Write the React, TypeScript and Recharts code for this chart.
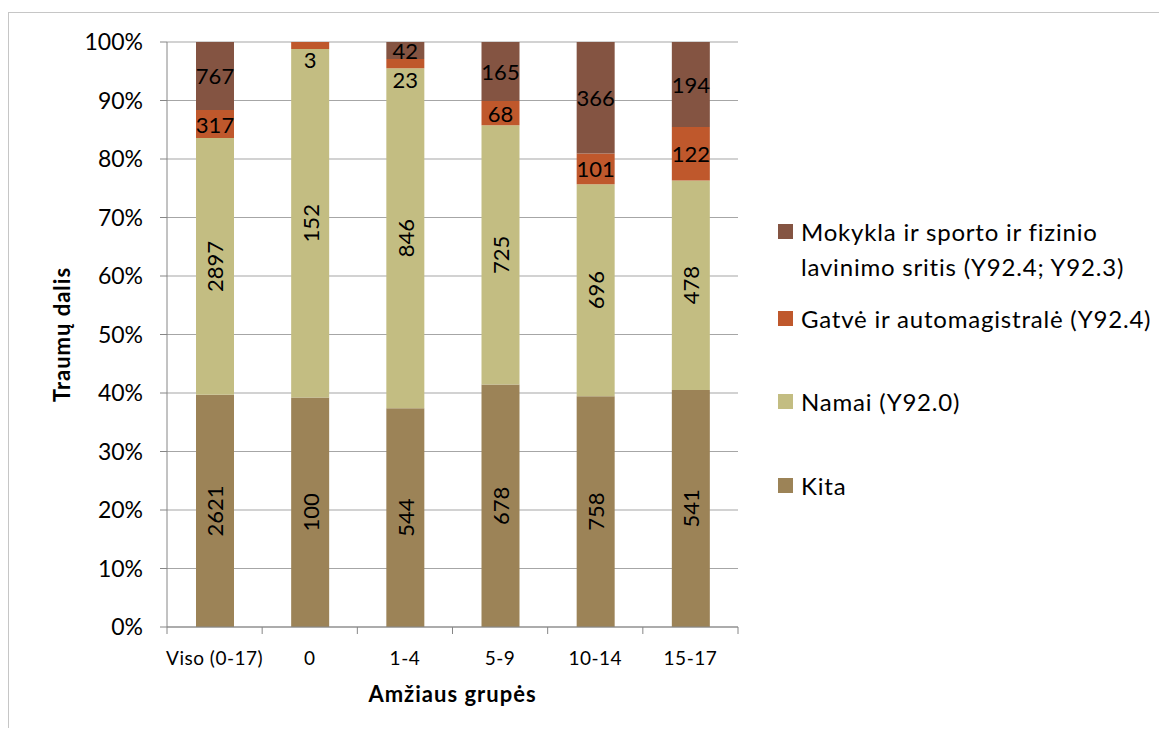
import React from 'react';
import { BarChart, Bar, XAxis, YAxis, CartesianGrid, LabelList } from 'recharts';

const groups = ['Viso (0-17)', '0', '1-4', '5-9', '10-14', '15-17'];
const kita = [2621, 100, 544, 678, 758, 541];
const namai = [2897, 152, 846, 725, 696, 478];
const gatve = [317, 3, 23, 68, 101, 122];
const mokykla = [767, 0, 42, 165, 366, 194];
const yTicks = [0, 0.1, 0.2, 0.3, 0.4, 0.5, 0.6, 0.7, 0.8, 0.9, 1];

const data = groups.map((g, i) => ({
  group: g,
  kita: kita[i],
  namai: namai[i],
  gatve: gatve[i],
  mokykla: mokykla[i],
}));

const COLORS = {
  mokykla: '#845442',
  gatve: '#BF582C',
  namai: '#C3BD82',
  kita: '#9C8357',
};

const legendItems = [
  { key: 'mokykla', lines: ['Mokykla ir sporto ir fizinio', 'lavinimo sritis (Y92.4; Y92.3)'] },
  { key: 'gatve', lines: ['Gatvė ir automagistralė (Y92.4)'] },
  { key: 'namai', lines: ['Namai (Y92.0)'] },
  { key: 'kita', lines: ['Kita'] },
];

const FONT = 'Lato, "Open Sans", sans-serif';
const W = 1158;
const H = 718;
const PLOT_L = 158;
const PLOT_R = 729;
const HALF_BAND = (PLOT_R - PLOT_L) / groups.length / 2;

function makeLabel(rotate: boolean, pushBelow: boolean) {
  return (props: any) => {
    const x = Number(props.x), y = Number(props.y);
    const w = Number(props.width), h = Number(props.height);
    if (!props.value) return null;
    const cx = x + w / 2;
    let cy = y + h / 2;
    if (pushBelow && h < 20) cy = y + h + 11;
    return (
      <text
        x={cx}
        y={cy}
        textAnchor="middle"
        dominantBaseline="central"
        fontSize={22}
        fontFamily={FONT}
        fill="#000"
        transform={rotate ? `rotate(-90 ${cx} ${cy})` : undefined}
      >
        {props.value}
      </text>
    );
  };
}

function XTick(props: any) {
  const { x, y, payload, index } = props;
  const last = index === groups.length - 1;
  return (
    <g>
      <line x1={x - HALF_BAND} y1={y - 8} x2={x - HALF_BAND} y2={y - 1} stroke="#868686" />
      {last && <line x1={x + HALF_BAND} y1={y - 8} x2={x + HALF_BAND} y2={y - 1} stroke="#868686" />}
      <text x={x} y={y + 22} textAnchor="middle" dominantBaseline="central" fontSize={19} letterSpacing={0.5} fontFamily={FONT} fill="#000">
        {payload.value}
      </text>
    </g>
  );
}

function Legend() {
  const tops = [201, 288, 371, 455];
  return (
    <>
      {legendItems.map((it, i) => (
        <div key={it.key} style={{ position: 'absolute', left: 769, top: tops[i], display: 'flex', fontFamily: FONT, fontSize: 24, letterSpacing: 0.8, lineHeight: '35px', color: '#000' }}>
          <span style={{ width: 15, height: 15, background: (COLORS as any)[it.key], marginTop: 10, marginRight: 8, flex: 'none' }} />
          <div>
            {it.lines.map((l) => (
              <div key={l} style={{ whiteSpace: 'nowrap' }}>{l}</div>
            ))}
          </div>
        </div>
      ))}
    </>
  );
}

export default function App() {
  return (
    <div style={{ position: 'relative', top: 4, width: W, height: H, border: '1px solid #c6c6c6', background: '#fff' }}>
      <BarChart
        width={W}
        height={H}
        data={data}
        stackOffset="expand"
        barSize={38}
        margin={{ top: 29, right: W - PLOT_R, bottom: 0, left: 0 }}
      >
        <CartesianGrid vertical={false} stroke="#A6A6A6" strokeWidth={1.2} />
        <XAxis
          dataKey="group"
          height={104}
          axisLine={{ stroke: '#868686' }}
          tickLine={false}
          tick={<XTick />}
          interval={0}
          label={{ value: 'Amžiaus grupės', position: 'insideBottom', offset: 29, fontSize: 22, letterSpacing: 1, fontWeight: 'bold', fontFamily: FONT, fill: '#000' }}
        />
        <YAxis
          width={PLOT_L}
          domain={[0, 1]}
          ticks={yTicks}
          interval={0}
          tickFormatter={(v: number) => `${Math.round(v * 100)}%`}
          axisLine={{ stroke: '#868686' }}
          tickLine={{ stroke: '#868686' }}
          tickSize={7}
          tickMargin={17}
          tick={{ fontSize: 23, fontFamily: FONT, fill: '#000' }}
          label={{ value: 'Traumų dalis', angle: -90, position: 'center', dx: -26, fontSize: 22, letterSpacing: 1, fontWeight: 'bold', fontFamily: FONT, fill: '#000' }}
        />
        <Bar dataKey="kita" stackId="a" fill={COLORS.kita} isAnimationActive={false}>
          <LabelList dataKey="kita" content={makeLabel(true, false)} />
        </Bar>
        <Bar dataKey="namai" stackId="a" fill={COLORS.namai} isAnimationActive={false}>
          <LabelList dataKey="namai" content={makeLabel(true, false)} />
        </Bar>
        <Bar dataKey="gatve" stackId="a" fill={COLORS.gatve} isAnimationActive={false}>
          <LabelList dataKey="gatve" content={makeLabel(false, true)} />
        </Bar>
        <Bar dataKey="mokykla" stackId="a" fill={COLORS.mokykla} isAnimationActive={false}>
          <LabelList dataKey="mokykla" content={makeLabel(false, false)} />
        </Bar>
      </BarChart>
      <Legend />
    </div>
  );
}
